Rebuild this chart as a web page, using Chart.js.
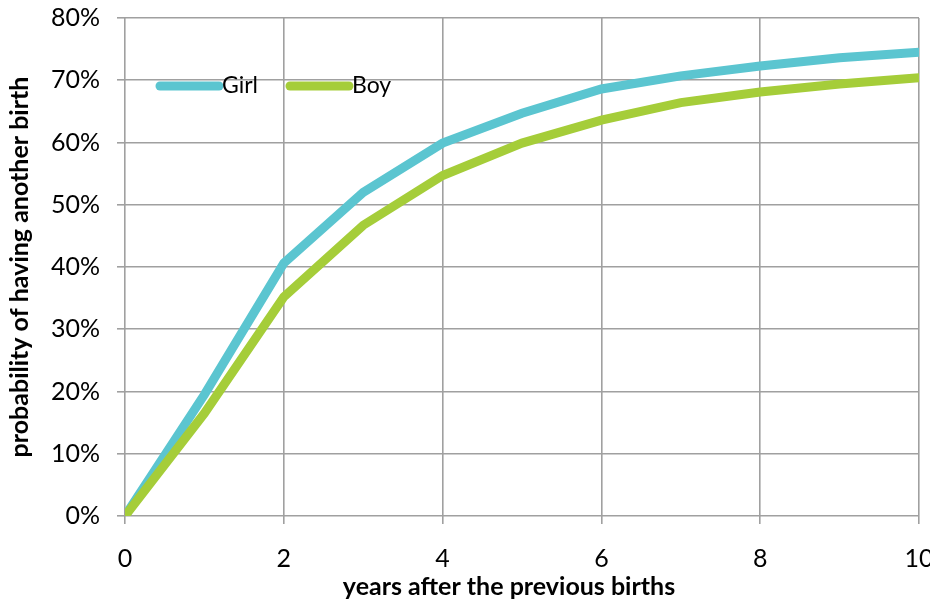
<!DOCTYPE html>
<html>
<head>
<meta charset="utf-8">
<style>
  html, body { margin: 0; padding: 0; background: #fff; }
  #wrap { width: 930px; height: 601px; }
</style>
<script src="https://cdn.jsdelivr.net/npm/chart.js@4"></script>
</head>
<body>
<div id="wrap"><canvas id="chart" width="930" height="601"></canvas></div>
<script>
// anos após o nascimento anterior
const years = [0, 1, 2, 3, 4, 5, 6, 7, 8, 9, 10];
// probabilidade (%) de ter outro filho
const girl = [0, 19.5, 40.6, 52.0, 59.9, 64.7, 68.6, 70.7, 72.3, 73.6, 74.5];
const boy = [0, 16.5, 35.2, 46.7, 54.7, 59.9, 63.6, 66.4, 68.1, 69.4, 70.4];
const seriesNames = ["Girl", "Boy"];
const seriesColors = ["#5bc5d0", "#a5cd39"];
const xTitle = "years after the previous births";
const yTitle = "probability of having another birth";

const FONT = "Lato, 'Open Sans', sans-serif";

// Legenda desenhada dentro da área do gráfico + título do eixo x
const innerLegend = {
  id: "innerLegend",
  afterDraw(chart) {
    const ctx = chart.ctx;
    const area = chart.chartArea;
    let x = area.left + 35;
    const y = area.top + 68;
    ctx.save();
    ctx.font = "23px " + FONT;
    ctx.textBaseline = "middle";
    seriesNames.forEach((name, i) => {
      ctx.strokeStyle = seriesColors[i];
      ctx.lineWidth = 9;
      ctx.lineCap = "round";
      ctx.beginPath();
      ctx.moveTo(x, y);
      ctx.lineTo(x + 59, y);
      ctx.stroke();
      ctx.fillStyle = "#000";
      ctx.fillText(name, x + 62, y);
      x += 130;
    });

    // título do eixo x (um pouco à esquerda do centro, como no original)
    ctx.font = "bold 25px " + FONT;
    ctx.textAlign = "center";
    ctx.fillText(xTitle, (area.left + area.right) / 2 - 13, chart.height - 14);
    ctx.restore();
  },
};

const toPoints = (vals) => vals.map((v, i) => ({ x: years[i], y: v }));

new Chart(document.getElementById("chart"), {
  type: "line",
  data: {
    datasets: [
      {
        label: seriesNames[0],
        data: toPoints(girl),
        borderColor: seriesColors[0],
        order: 2,
      },
      {
        label: seriesNames[1],
        data: toPoints(boy),
        borderColor: seriesColors[1],
        order: 1,
      },
    ],
  },
  options: {
    responsive: false,
    animation: false,
    layout: { padding: { left: 1, right: 11, top: 18, bottom: 0 } },
    elements: {
      line: { borderWidth: 9, borderCapStyle: "round", borderJoinStyle: "miter", tension: 0 },
      point: { radius: 0 },
    },
    plugins: {
      legend: { display: false },
      tooltip: { enabled: false },
    },
    scales: {
      x: {
        type: "linear",
        min: 0,
        max: 10,
        ticks: {
          stepSize: 2,
          color: "#000",
          font: { family: FONT, size: 25 },
          padding: 20,
          maxRotation: 0,
        },
        grid: { color: "#a0a0a0", lineWidth: 1.6, tickLength: 8 },
        border: { display: false },
        afterFit(scale) {
          scale.height = 85;
          scale.paddingLeft = 0;
          scale.paddingRight = 0;
        },
      },
      y: {
        min: 0,
        max: 80,
        ticks: {
          stepSize: 10,
          color: "#000",
          font: { family: FONT, size: 25 },
          padding: 17,
          callback: (v) => v + "%",
        },
        grid: { color: "#a0a0a0", lineWidth: 1.6, tickLength: 8 },
        border: { display: false },
        title: {
          display: true,
          text: yTitle,
          color: "#000",
          font: { family: FONT, size: 25, weight: "bold" },
          padding: { top: 4, bottom: 4 },
        },
        afterFit(scale) {
          scale.width = 124;
          scale.paddingTop = 0;
          scale.paddingBottom = 0;
        },
      },
    },
  },
  plugins: [innerLegend],
});
</script>
</body>
</html>
